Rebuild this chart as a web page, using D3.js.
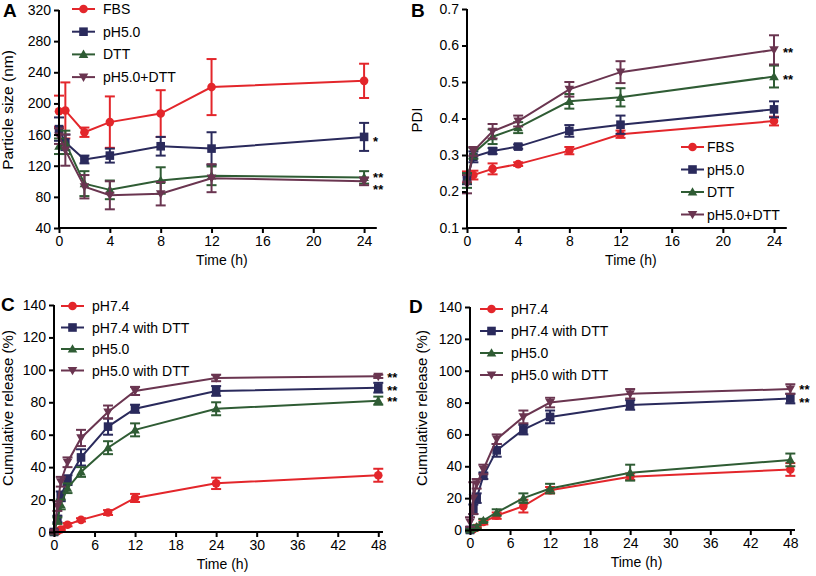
<!DOCTYPE html>
<html><head><meta charset="utf-8">
<script src="https://cdn.jsdelivr.net/npm/d3@7"></script>
<style>body{margin:0;background:#fff}svg{display:block}text{font-family:"Liberation Sans",Arial,sans-serif}</style>
</head><body><svg id="c" width="816" height="576"></svg>
<script>
// ---------- DATA ----------
const timeAB = [0, 0.5, 2, 4, 8, 12, 24];
const seriesAB = ["FBS", "pH5.0", "DTT", "pH5.0+DTT"];
const sizeFBS = [190, 191, 163, 176, 187, 221, 229];
const sizeFBSerr = [20, 36, 6, 33, 30, 36, 22];
const sizePH5 = [167, 150, 128, 133, 145, 142, 157];
const sizePH5err = [15, 10, 5, 9, 12, 21, 18];
const sizeDTT = [145, 150, 97, 89, 101, 107, 105];
const sizeDTTerr = [10, 15, 16, 12, 17, 12, 8];
const sizePH5DTT = [158, 140, 93, 82, 84, 104, 100];
const sizePH5DTTerr = [10, 20, 15, 18, 15, 18, 5];

const pdiFBS = [0.240, 0.245, 0.262, 0.275, 0.312, 0.357, 0.393];
const pdiFBSerr = [0.015, 0.012, 0.015, 0.005, 0.010, 0.010, 0.012];
const pdiPH5 = [0.235, 0.295, 0.311, 0.323, 0.366, 0.383, 0.425];
const pdiPH5err = [0.015, 0.015, 0.008, 0.006, 0.016, 0.025, 0.022];
const pdiDTT = [0.230, 0.305, 0.350, 0.375, 0.447, 0.458, 0.515];
const pdiDTTerr = [0.020, 0.015, 0.020, 0.015, 0.020, 0.025, 0.030];
const pdiPH5DTT = [0.220, 0.310, 0.365, 0.393, 0.480, 0.527, 0.588];
const pdiPH5DTTerr = [0.025, 0.012, 0.020, 0.015, 0.020, 0.030, 0.040];

const timeCD = [0, 0.5, 1, 2, 4, 8, 12, 24, 48];
const seriesCD = ["pH7.4", "pH7.4 with DTT", "pH5.0", "pH5.0 with DTT"];
const relC74 = [0, 0.5, 1.5, 4.5, 7.5, 12, 21, 30, 35];
const relC74err = [0.5, 0.5, 0.5, 1, 1, 1.5, 2.5, 3.5, 4];
const relC74DTT = [0, 8, 22, 32, 46, 65, 76, 87, 89];
const relC74DTTerr = [1, 2, 3, 3, 5, 5, 2.5, 3, 3];
const relC50 = [0, 7, 17, 27, 37, 52, 63, 76, 81];
const relC50err = [1, 2, 3, 3, 3, 4, 4, 4, 2.5];
const relC50DTT = [0, 16, 31, 43, 58, 74, 87, 95, 96];
const relC50DTTerr = [1, 3, 3, 3, 5, 4, 2.5, 2, 1];

const relD74 = [0, 0.5, 1.5, 5, 9, 15, 25, 33.5, 38];
const relD74err = [0.5, 0.5, 0.5, 1.5, 2, 4, 2, 2, 4];
const relD74DTT = [0, 13, 20, 34, 50, 63, 71, 78.5, 82.5];
const relD74DTTerr = [1, 3, 3, 2, 4, 3, 4, 3, 3];
const relD50 = [0, 1, 2, 6, 11, 20, 26, 36, 44];
const relD50err = [0.5, 0.5, 1, 1, 2, 3, 3, 5, 4];
const relD50DTT = [5, 20, 29, 38, 57, 71, 80, 85.5, 88.5];
const relD50DTTerr = [3, 10, 3, 3, 3, 4, 3, 3, 3];

const ticksA = [40, 80, 120, 160, 200, 240, 280, 320];
const ticksB = [0.1, 0.2, 0.3, 0.4, 0.5, 0.6, 0.7];
const ticksCD = [0, 20, 40, 60, 80, 100, 120, 140];
const xticksAB = [0, 4, 8, 12, 16, 20, 24];
const xticksCD = [0, 6, 12, 18, 24, 30, 36, 42, 48];

// ---------- STYLE ----------
const colors = ["#e3262b", "#2a2a5c", "#2f5c34", "#6a3550"];
const shapes = ["circle", "square", "tri", "itri"];
const svg = d3.select("#c");

function marker(g, shape, x, y, col, s) {
  if (shape === "circle") g.append("circle").attr("cx", x).attr("cy", y).attr("r", 4.3 * s).attr("fill", col);
  else if (shape === "square") g.append("rect").attr("x", x - 4.3 * s).attr("y", y - 4.3 * s).attr("width", 8.6 * s).attr("height", 8.6 * s).attr("fill", col);
  else {
    const d = shape === "tri" ? 1 : -1, h = 4.8 * s;
    g.append("path").attr("d", `M${x},${y - d * h}L${x + h},${y + d * h * 0.75}L${x - h},${y + d * h * 0.75}Z`).attr("fill", col);
  }
}

function panel(cfg) {
  const g = svg.append("g");
  const x = d3.scaleLinear().domain(cfg.xd).range(cfg.xr);
  const y = d3.scaleLinear().domain(cfg.yd).range(cfg.yr);
  cfg.series.forEach((s, i) => {
    const col = colors[i];
    const pts = cfg.t.map((t, k) => [x(t), y(s.v[k]), y(s.v[k] + s.e[k]), y(s.v[k] - s.e[k])]);
    g.append("path").attr("d", d3.line()(pts.map(p => [p[0], p[1]]))).attr("fill", "none").attr("stroke", col).attr("stroke-width", 2);
    pts.forEach(p => {
      g.append("line").attr("x1", p[0]).attr("x2", p[0]).attr("y1", p[2]).attr("y2", p[3]).attr("stroke", col).attr("stroke-width", 2);
      [p[2], p[3]].forEach(yy => g.append("line").attr("x1", p[0] - 5).attr("x2", p[0] + 5).attr("y1", yy).attr("y2", yy).attr("stroke", col).attr("stroke-width", 2));
      marker(g, shapes[i], p[0], p[1], col, 1);
    });
  });
  const ax = g.append("g").attr("transform", `translate(0,${cfg.yr[0]})`)
    .call(d3.axisBottom(x).tickValues(cfg.xt).tickSize(5).tickSizeOuter(0).tickPadding(3));
  const ay = g.append("g").attr("transform", `translate(${cfg.xr[0]},0)`)
    .call(d3.axisLeft(y).tickValues(cfg.yt).tickSize(5).tickSizeOuter(0).tickPadding(3).tickFormat(cfg.yf || d3.format("d")));
  [ax, ay].forEach(a => {
    a.select(".domain").attr("stroke", "#000").attr("stroke-width", 2);
    a.selectAll(".tick line").attr("stroke", "#000").attr("stroke-width", 2);
    a.selectAll(".tick text").attr("fill", "#000").attr("font-size", 14).attr("font-family", "Liberation Sans, Arial, sans-serif");
  });
  ax.select(".domain").attr("d", `M${cfg.xr[0] - 1},0H${cfg.xr[1]}`);
  ay.select(".domain").attr("d", `M0,${cfg.yr[0] + 1}V${cfg.yr[1]}`);
  g.append("text").attr("x", (cfg.xr[0] + cfg.xr[1]) / 2 + 4).attr("y", cfg.yr[0] + 37).attr("text-anchor", "middle")
    .attr("font-size", 14).text("Time (h)");
  g.append("text").attr("transform", `translate(${cfg.ylx},${cfg.yly}) rotate(-90)`).attr("text-anchor", "middle")
    .attr("font-size", cfg.ylfs).text(cfg.ylab);
  g.append("text").attr("x", cfg.letter[0]).attr("y", cfg.letter[1]).attr("font-size", 19).attr("font-weight", "bold").text(cfg.letterT);
  cfg.names.forEach((n, i) => {
    const ly = cfg.leg[1] + i * cfg.leg[3];
    g.append("line").attr("x1", cfg.leg[0]).attr("x2", cfg.leg[0] + 23).attr("y1", ly).attr("y2", ly).attr("stroke", colors[i]).attr("stroke-width", 2);
    marker(g, shapes[i], cfg.leg[0] + 11.5, ly, colors[i], 1);
    g.append("text").attr("x", cfg.leg[2]).attr("y", ly + 5).attr("font-size", 14).text(n);
  });
  cfg.stars.forEach(s => {
    g.append("text").attr("x", x(s[0]) + 9).attr("y", y(s[1]) + s[3]).attr("font-size", 13).attr("font-weight", "bold").text(s[2]);
  });
}

panel({
  t: timeAB, xd: [0, 25], xr: [59, 376.8], yd: [40, 320], yr: [228, 10], xt: xticksAB, yt: ticksA,
  series: [{v: sizeFBS, e: sizeFBSerr}, {v: sizePH5, e: sizePH5err}, {v: sizeDTT, e: sizeDTTerr}, {v: sizePH5DTT, e: sizePH5DTTerr}],
  names: seriesAB, leg: [72, 9, 103, 22.7], ylab: "Particle size (nm)", ylx: 13, yly: 110, ylfs: 15.5,
  letter: [3, 17], letterT: "A",
  stars: [[24, sizePH5[6], "*", 9], [24, sizeDTT[6], "**", 5], [24, sizePH5DTT[6], "**", 13]]
});
panel({
  t: timeAB, xd: [0, 25], xr: [467, 786.8], yd: [0.1, 0.7], yr: [228, 9], xt: xticksAB, yt: ticksB, yf: d3.format(".1f"),
  series: [{v: pdiFBS, e: pdiFBSerr}, {v: pdiPH5, e: pdiPH5err}, {v: pdiDTT, e: pdiDTTerr}, {v: pdiPH5DTT, e: pdiPH5DTTerr}],
  names: seriesAB, leg: [681, 147, 707, 22.5], ylab: "PDI", ylx: 422, yly: 120, ylfs: 15,
  letter: [411, 17], letterT: "B",
  stars: [[24, pdiPH5DTT[6], "**", 7], [24, pdiDTT[6], "**", 7]]
});
panel({
  t: timeCD, xd: [0, 48.7], xr: [54, 383], yd: [0, 140], yr: [532, 305], xt: xticksCD, yt: ticksCD,
  series: [{v: relC74, e: relC74err}, {v: relC74DTT, e: relC74DTTerr}, {v: relC50, e: relC50err}, {v: relC50DTT, e: relC50DTTerr}],
  names: seriesCD, leg: [61, 306, 92, 21.5], ylab: "Cumulative release (%)", ylx: 13, yly: 408, ylfs: 15,
  letter: [1, 311], letterT: "C",
  stars: [[48, relC50DTT[8], "**", 6], [48, relC74DTT[8], "**", 7], [48, relC50[8], "**", 5]]
});
panel({
  t: timeCD, xd: [0, 48.7], xr: [470, 795], yd: [0, 140], yr: [530, 307], xt: xticksCD, yt: ticksCD,
  series: [{v: relD74, e: relD74err}, {v: relD74DTT, e: relD74DTTerr}, {v: relD50, e: relD50err}, {v: relD50DTT, e: relD50DTTerr}],
  names: seriesCD, leg: [480, 309, 511, 22], ylab: "Cumulative release (%)", ylx: 427, yly: 408, ylfs: 15,
  letter: [409, 313], letterT: "D",
  stars: [[48, relD50DTT[8], "**", 5], [48, relD74DTT[8], "**", 8]]
});
</script></body></html>
